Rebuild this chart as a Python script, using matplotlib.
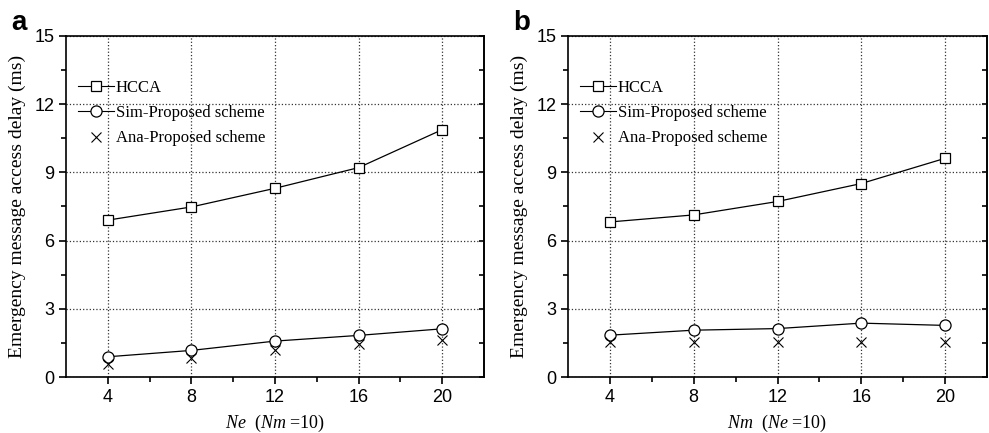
import matplotlib
matplotlib.use("Agg")
import matplotlib.pyplot as plt
from matplotlib.ticker import MultipleLocator, NullFormatter

plt.rcParams['mathtext.fontset'] = 'custom'
plt.rcParams['mathtext.it'] = 'Liberation Serif:italic'
plt.rcParams['mathtext.rm'] = 'Liberation Serif'

# data
x_vals = [4, 8, 12, 16, 20]

hcca_a = [6.9, 7.48, 8.3, 9.21, 10.88]
sim_a = [0.89, 1.17, 1.58, 1.83, 2.12]
ana_a = [0.56, 0.82, 1.19, 1.44, 1.63]

hcca_b = [6.82, 7.13, 7.72, 8.51, 9.62]
sim_b = [1.84, 2.06, 2.13, 2.37, 2.27]
ana_b = [1.53, 1.55, 1.55, 1.55, 1.55]

labels = ['HCCA', 'Sim-Proposed scheme', 'Ana-Proposed scheme']
xlabels = [r'$Ne$  ($Nm$ =10)', r'$Nm$  ($Ne$ =10)']
panels = ['a', 'b']
ylabel = 'Emergency message access delay (ms)'

serif = 'Liberation Serif'
sans = 'Liberation Sans'

fig = plt.figure(figsize=(9.89, 4.33), dpi=100)
ax_a = fig.add_axes([0.0667, 0.1293, 0.4227, 0.7876])
ax_b = fig.add_axes([0.5743, 0.1293, 0.4237, 0.7876])

datasets = [(hcca_a, sim_a, ana_a), (hcca_b, sim_b, ana_b)]

for ax, (hcca, sim, ana), xl, pl in zip([ax_a, ax_b], datasets, xlabels, panels):
    ax.plot(x_vals, hcca, color='black', lw=0.9, marker='s', ms=7.5,
            mfc='white', mec='black', mew=0.9, label=labels[0], zorder=3)
    ax.plot(x_vals, sim, color='black', lw=0.9, marker='o', ms=8,
            mfc='white', mec='black', mew=0.9, label=labels[1], zorder=3)
    ax.plot(x_vals, ana, ls='none', marker='x', ms=7.5, mec='black',
            mew=0.8, label=labels[2], zorder=4)

    ax.set_xlim(2, 22)
    ax.set_ylim(0, 15)
    ax.set_xticks(x_vals)
    ax.set_xticks([6, 10, 14, 18], minor=True)
    ax.yaxis.set_major_locator(MultipleLocator(3))
    ax.yaxis.set_minor_locator(MultipleLocator(1.5))

    ax.grid(True, which='major', ls=':', color='#333333', lw=0.9)
    ax.tick_params(which='both', direction='out', width=1.2)
    ax.tick_params(which='major', length=5, labelsize=13)
    ax.tick_params(which='minor', length=3.5)
    for lab in ax.get_xticklabels() + ax.get_yticklabels():
        lab.set_fontfamily(sans)
    for sp in ax.spines.values():
        sp.set_linewidth(1.2)

    # inward ticks on the right spine
    sec = ax.secondary_yaxis('right')
    sec.yaxis.set_major_locator(MultipleLocator(3))
    sec.yaxis.set_minor_locator(MultipleLocator(1.5))
    sec.yaxis.set_major_formatter(NullFormatter())
    sec.tick_params(which='both', direction='in', width=1.2, length=3.5)
    sec.spines['right'].set_linewidth(1.2)

    ax.set_xlabel(xl, fontfamily=serif, fontsize=13, labelpad=5)
    ax.set_ylabel(ylabel, fontfamily=serif, fontsize=14, labelpad=6)

    leg = ax.legend(loc='upper left', bbox_to_anchor=(0.0, 0.905), frameon=False,
                    prop={'family': serif, 'size': 12}, handlelength=2.2,
                    handletextpad=0.1, labelspacing=0.55, borderaxespad=0.3)
    for h in leg.get_lines():
        h.set_linewidth(0.8)

    ax.text(-0.13, 1.0, pl, transform=ax.transAxes, fontfamily=sans,
            fontweight='bold', fontsize=20, ha='left', va='bottom')

fig.savefig('out.png', dpi=100)
